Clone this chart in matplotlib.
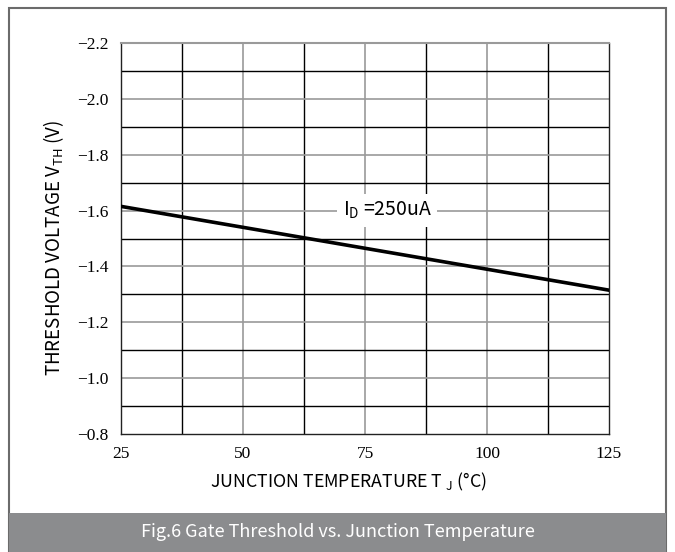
import matplotlib.pyplot as plt
from matplotlib.patches import Rectangle

# data
temp = [25, 50, 75, 100, 125]
vth = [-1.615, -1.54, -1.465, -1.39, -1.315]
xticks = [25, 50, 75, 100, 125]
yticks = [-0.8, -1.0, -1.2, -1.4, -1.6, -1.8, -2.0, -2.2]

plt.rcParams['font.family'] = ['Noto Sans CJK SC', 'DejaVu Sans']

W, H = 675, 552
fig = plt.figure(figsize=(W / 100, H / 100), dpi=100)

# outer frame and caption bar
fig.patches.append(Rectangle((9 / W, 0), 657 / W, 544 / H, transform=fig.transFigure,
                             fill=False, edgecolor='#6b6b6b', linewidth=1.5))
fig.patches.append(Rectangle((9 / W, 0), 657 / W, 39 / H, transform=fig.transFigure,
                             facecolor='#8b8c8e', edgecolor='none'))
fig.text(338 / W, 20 / H, 'Fig.6 Gate Threshold vs. Junction Temperature', color='white',
         ha='center', va='center', fontsize=13)

ax = fig.add_axes([121 / W, (H - 434) / H, 488 / W, 391 / H])
ax.set_xlim(25, 125)
ax.set_ylim(-0.8, -2.2)

# grid: major lines gray, minor lines black
ax.set_xticks(xticks)
ax.set_yticks(yticks)
for v in [37.5, 62.5, 87.5, 112.5]:
    ax.axvline(v, color='black', linewidth=1.0, zorder=1)
for v in [50, 75, 100]:
    ax.axvline(v, color='#9a9a9a', linewidth=1.2, zorder=1)
for i in range(1, 14):
    v = -0.8 - 0.1 * i
    c = '#9a9a9a' if i % 2 == 0 else 'black'
    ax.axhline(v, color=c, linewidth=1.2 if i % 2 == 0 else 1.0, zorder=1)
ax.tick_params(which='both', length=0)
for s in ax.spines.values():
    s.set_color('#222222')
    s.set_linewidth(1.0)
ax.spines['top'].set_color('#9a9a9a')
ax.spines['top'].set_linewidth(1.5)

serif = ['Liberation Serif', 'DejaVu Serif']
ax.set_xticklabels([str(t) for t in xticks], family=serif, fontsize=12.5)
ax.set_yticklabels(['\u2212%.1f' % abs(t) for t in yticks], family=serif, fontsize=12.5)
ax.tick_params(axis='x', pad=9)
ax.tick_params(axis='y', pad=9)

ax.plot(temp, vth, color='black', linewidth=2.6, zorder=3)

ax.text(79.5, -1.6, 'I$_{\\mathregular{D}}$ =250uA', fontsize=14, ha='center', va='center',
        zorder=4, bbox=dict(facecolor='white', edgecolor='none', pad=4))

ax.set_xlabel('JUNCTION TEMPERATURE T $_{\\mathregular{J}}$ (\u00b0C)', fontsize=12.8, labelpad=6)
ax.set_ylabel('THRESHOLD VOLTAGE V$_{\\mathregular{TH}}$ (V)', fontsize=13.5, labelpad=8)
ax.xaxis.label.set_x(0.467)
ax.yaxis.label.set_y(0.476)

fig.savefig('out.png', dpi=100)
